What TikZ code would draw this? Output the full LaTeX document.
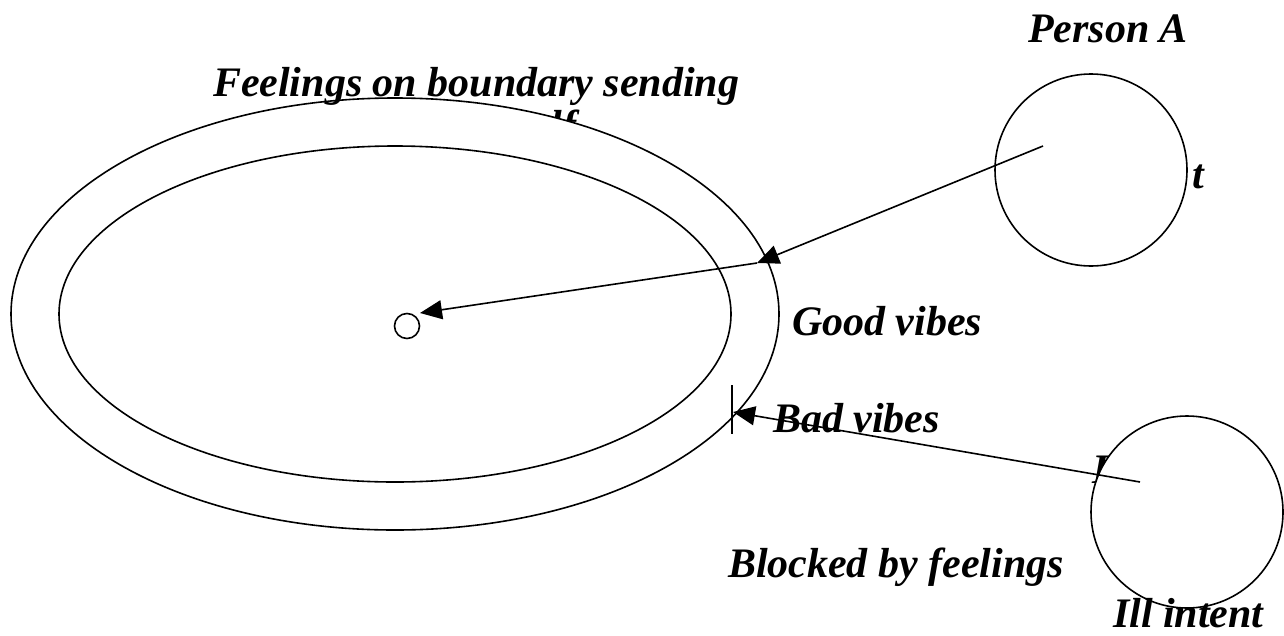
\documentclass[tikz,border=0pt]{standalone}
\usepackage{fontspec}
\setmainfont{Liberation Serif}
\usetikzlibrary{arrows.meta}
\begin{document}
\begin{tikzpicture}[x=1pt,y=-1pt,
  every node/.style={inner sep=0pt,outer sep=0pt},
  lbl/.style={font=\fontsize{42}{48}\selectfont\bfseries\itshape},
  ring/.style={draw,line width=1.6pt,fill=white},
  vibe/.style={draw,line width=1.6pt,-{Triangle[length=22pt,width=19pt]}}]
\useasboundingbox (0,0) rectangle (1284,635);

% words tucked behind the shapes
\node[lbl,anchor=base west] (selfword) at (516,139) {self};
\node[lbl,anchor=base east] (intentA) at (1204,188) {t};
\node[lbl,anchor=base west] (intentB) at (1092,483) {I};

% boundary rings and the core
\draw[ring] (395,314) ellipse [x radius=384, y radius=216];
\draw[ring] (395,314) ellipse [x radius=336, y radius=168];
\node[ring,circle,minimum size=25pt] (core) at (407,326) {};

% the two people
\node[ring,circle,minimum size=192pt] (pA) at (1091,170) {};
\node[ring,circle,minimum size=192pt] (pB) at (1187,512) {};

% labels
\node[lbl,anchor=base west] (title) at (213,96) {Feelings on boundary sending};
\node[lbl,anchor=base west] (nameA) at (1028,42) {Person A};
\node[lbl,anchor=base west] (good) at (792,335) {Good vibes};
\node[lbl,anchor=base west] (bad) at (773,432) {Bad vibes};
\node[lbl,anchor=base west] (blocked) at (728,577) {Blocked by feelings};
\node[lbl,anchor=base west] (ill) at (1113,627) {Ill intent};

% arrow end points
\coordinate (srcA) at (1043,146);
\coordinate (edgeA) at (757,263);
\coordinate (coreIn) at (420,313);
\coordinate (srcB) at (1140,482);
\coordinate (edgeB) at (733,412);
\coordinate (barTop) at (732,385);
\coordinate (barBot) at (732,434);

% good vibes pass through, bad vibes are stopped at the bar
\draw[vibe] (srcA) -- (edgeA);
\draw[vibe] (edgeA) -- (coreIn);
\draw[vibe] (srcB) -- (edgeB);
\draw[line width=1.6pt] (barTop) -- (barBot);
\end{tikzpicture}
\end{document}
